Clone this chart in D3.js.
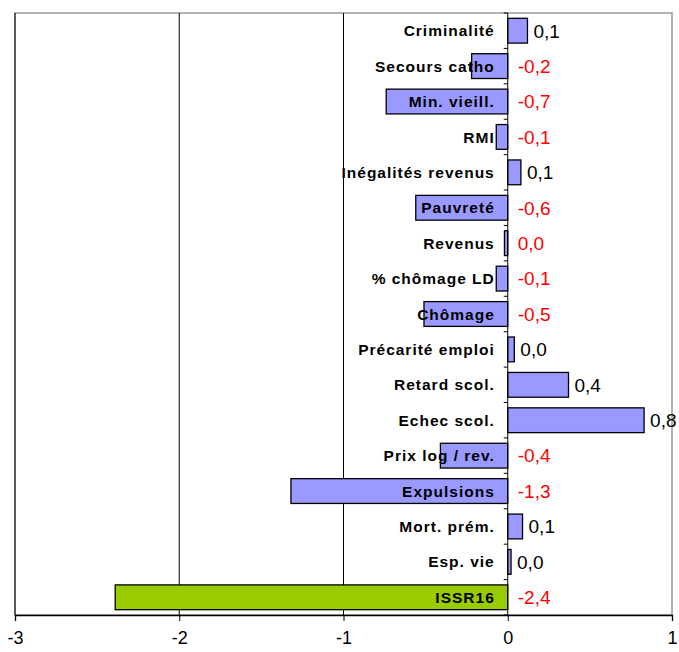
<!DOCTYPE html>
<html>
<head>
<meta charset="utf-8">
<script src="https://cdn.jsdelivr.net/npm/d3@7"></script>
<style>
  body { margin: 0; background: #fff; }
  svg { font-family: "Liberation Sans", Arial, sans-serif; }
</style>
</head>
<body>
<div id="chart"></div>
<script>
// indicateurs, du haut vers le bas
const categories = ["Criminalité", "Secours catho", "Min. vieill.", "RMI", "Inégalités revenus",
  "Pauvreté", "Revenus", "% chômage LD", "Chômage", "Précarité emploi", "Retard scol.",
  "Echec scol.", "Prix log / rev.", "Expulsions", "Mort. prém.", "Esp. vie", "ISSR16"];
const values = [0.12, -0.22, -0.74, -0.07, 0.08, -0.56, -0.02, -0.07, -0.51, 0.04, 0.37,
  0.83, -0.41, -1.32, 0.09, 0.02, -2.39];
const valueLabels = ["0,1", "-0,2", "-0,7", "-0,1", "0,1", "-0,6", "0,0", "-0,1", "-0,5", "0,0",
  "0,4", "0,8", "-0,4", "-1,3", "0,1", "0,0", "-2,4"];
const xTicks = [-3, -2, -1, 0, 1];
const xTickLabels = ["-3", "-2", "-1", "0", "1"];

const W = 679, H = 652;
const margin = { top: 13, right: 7, bottom: 37, left: 15 };
const width = W - margin.left - margin.right;
const height = H - margin.top - margin.bottom;

const svg = d3.select("#chart").append("svg")
  .attr("width", W).attr("height", H);
const g = svg.append("g").attr("transform", `translate(${margin.left},${margin.top})`);

const x = d3.scaleLinear().domain([-3, 1]).range([0, width]);
const y = d3.scaleBand().domain(categories).range([0, height]).paddingInner(0.3).paddingOuter(0.15);

// cadre gris
g.append("rect").attr("x", 0).attr("y", 0).attr("width", width).attr("height", height)
  .attr("fill", "none").attr("stroke", "#999").attr("stroke-width", 1.5);

// grille verticale
g.selectAll(".grid").data([-3, -2, -1]).enter().append("line")
  .attr("x1", d => x(d)).attr("x2", d => x(d))
  .attr("y1", 0).attr("y2", height)
  .attr("stroke", "#000").attr("stroke-width", 1);

// barres
g.selectAll(".bar").data(categories).enter().append("rect")
  .attr("x", (d, i) => x(Math.min(0, values[i])))
  .attr("y", d => y(d))
  .attr("width", (d, i) => Math.abs(x(values[i]) - x(0)))
  .attr("height", y.bandwidth())
  .attr("fill", d => d === "ISSR16" ? "#99CC00" : "#9999FF")
  .attr("stroke", "#000").attr("stroke-width", 1.3);

// axe zéro avec graduations
const step = height / categories.length;
g.append("line").attr("x1", x(0)).attr("x2", x(0)).attr("y1", 0).attr("y2", height)
  .attr("stroke", "#000").attr("stroke-width", 1);
g.selectAll(".ytick").data(d3.range(categories.length + 1)).enter().append("line")
  .attr("x1", x(0) - 4).attr("x2", x(0))
  .attr("y1", d => d * step).attr("y2", d => d * step)
  .attr("stroke", "#000");

// libellés des catégories
g.selectAll(".cat").data(categories).enter().append("text")
  .attr("x", x(0) - 13)
  .attr("y", d => y(d) + y.bandwidth() / 2)
  .attr("dy", "0.36em")
  .attr("text-anchor", "end")
  .attr("font-size", 15.5).attr("font-weight", "bold")
  .attr("letter-spacing", 1)
  .text(d => d);

// étiquettes de valeur
g.selectAll(".val").data(categories).enter().append("text")
  .attr("x", (d, i) => values[i] >= 0 ? x(values[i]) + 6 : x(0) + 10)
  .attr("y", d => y(d) + y.bandwidth() / 2)
  .attr("dy", "0.36em")
  .attr("font-size", 19)
  .attr("fill", (d, i) => values[i] < 0 ? "#FF0000" : "#000")
  .text((d, i) => valueLabels[i]);

// axe horizontal
const xAxis = g.append("g").attr("transform", `translate(0,${height})`)
  .call(d3.axisBottom(x).tickValues(xTicks).tickFormat((d, i) => xTickLabels[i]).tickSize(6).tickPadding(10));
xAxis.select(".domain").attr("stroke", "#000").attr("stroke-width", 1.3);
xAxis.selectAll("text").attr("font-size", 18).attr("fill", "#000")
  .attr("font-family", "Liberation Sans, Arial, sans-serif");
</script>
</body>
</html>
